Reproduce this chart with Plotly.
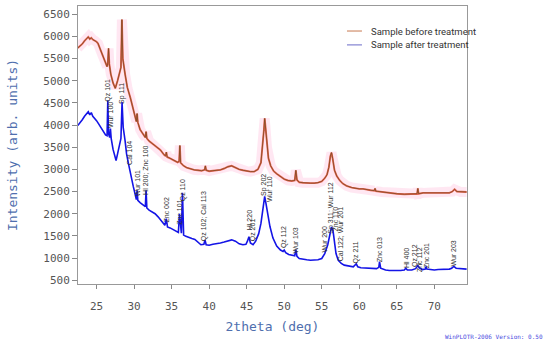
import plotly.graph_objects as go

# ---- data ----
x_before = [22.5, 22.8, 23.1, 23.4, 23.7, 23.9, 24.1, 24.3, 24.5, 24.8, 25.0, 25.2, 25.5, 25.8, 26.1, 26.4,
            26.5, 26.6, 26.7, 26.9, 27.2, 27.5, 27.8, 28.1, 28.25, 28.38, 28.5, 28.8, 29.1, 29.5, 29.8, 30.1,
            30.3, 30.4, 30.5, 30.8, 31.2, 31.5, 31.6, 31.7, 32.0, 32.5, 33.0, 33.5, 34.0, 34.2, 34.3, 34.4,
            34.8, 35.3, 35.8, 36.0, 36.1, 36.2, 36.6, 37.0, 37.5, 38.0, 38.5, 39.0, 39.4, 39.5, 39.6, 40.0,
            40.5, 41.0, 41.5, 42.0, 42.5, 43.0, 43.5, 44.0, 44.5, 45.0, 45.5, 46.0, 46.5, 46.9, 47.1, 47.3,
            47.4, 47.5, 47.7, 47.9, 48.2, 48.6, 49.0, 49.5, 50.0, 50.5, 51.0, 51.4, 51.55, 51.7, 52.0, 52.5,
            53.0, 53.5, 54.0, 54.5, 55.0, 55.4, 55.7, 55.95, 56.15, 56.3, 56.45, 56.7, 57.0, 57.4, 57.8, 58.3,
            59.0, 59.5, 60.0, 60.5, 61.0, 61.5, 62.0, 62.1, 62.2, 63.0, 64.0, 65.0, 66.0, 67.0, 67.7, 67.8,
            67.9, 68.5, 69.0, 70.0, 71.0, 72.0, 72.4, 72.7, 73.0, 73.5, 74.3]
y_before = [5740, 5780, 5830, 5900, 5960, 5990, 5940, 5970, 5930, 5900, 5880, 5840, 5700, 5560, 5420, 5320,
            5400, 5730, 5380, 5150, 4950, 4830, 5000, 5200, 5300, 6380, 5500, 5150, 4850, 4620, 4400, 4200,
            4080, 4260, 4060, 3900, 3780, 3720, 3850, 3700, 3640, 3570, 3500, 3440, 3330, 3300, 3390, 3280,
            3250, 3210, 3160, 3180, 3540, 3150, 3080, 3040, 3010, 2990, 2980, 2970, 2990, 3080, 2980, 2960,
            2970, 2980, 2990, 3020, 3060, 3080, 3040, 3000, 2980, 2960, 2950, 2950, 3000, 3150, 3450, 3900,
            4150, 3950, 3500, 3250, 3080, 2960, 2900, 2830, 2780, 2750, 2740, 2750, 2980, 2760, 2710, 2700,
            2690, 2690, 2690, 2700, 2730, 2800, 2880, 3050, 3300, 3380, 3250, 2980, 2850, 2750, 2680, 2630,
            2590, 2570, 2560, 2560, 2540, 2530, 2520, 2570, 2510, 2490, 2470, 2450, 2440, 2440, 2450, 2570,
            2450, 2470, 2470, 2460, 2460, 2470, 2500, 2550, 2500, 2490, 2490]

x_after = [22.5, 22.8, 23.1, 23.4, 23.7, 23.9, 24.1, 24.3, 24.5, 24.8, 25.0, 25.3, 25.6, 25.9, 26.2, 26.4,
           26.5, 26.6, 26.75, 26.85, 26.95, 27.2, 27.4, 27.6, 27.8, 28.1, 28.25, 28.4, 28.55, 28.8, 29.0, 29.25,
           29.5, 29.9, 30.2, 30.3, 30.4, 30.5, 30.8, 31.2, 31.5, 31.6, 31.7, 32.0, 32.4, 32.8, 33.2, 33.7,
           34.1, 34.3, 34.45, 34.8, 35.2, 35.6, 35.9, 36.05, 36.2, 36.3, 36.45, 36.6, 36.9, 37.3, 37.7, 38.1,
           38.5, 38.9, 39.3, 39.45, 39.6, 40.0, 40.5, 41.0, 41.5, 42.0, 42.5, 43.0, 43.5, 44.0, 44.5, 44.9,
           45.1, 45.3, 45.5, 45.85, 46.2, 46.6, 46.9, 47.1, 47.3, 47.4, 47.55, 47.8, 48.1, 48.5, 49.0, 49.5,
           49.85, 50.0, 50.2, 50.6, 51.0, 51.4, 51.55, 51.7, 52.0, 52.5, 53.0, 53.5, 54.0, 54.5, 55.0, 55.4,
           55.8, 56.1, 56.3, 56.5, 56.7, 56.9, 57.2, 57.6, 58.0, 58.7, 59.2, 59.6, 59.8, 60.2, 60.8, 61.5,
           62.3, 62.6, 62.7, 62.85, 63.5, 64.0, 64.5, 65.0, 65.5, 66.0, 66.2, 66.4, 67.0, 67.5, 67.8, 68.0,
           68.4, 68.8, 68.9, 69.0, 69.5, 70.0, 70.5, 71.0, 71.5, 72.0, 72.3, 72.6, 72.9, 73.3, 73.8, 74.3]
y_after = [3990, 4050, 4120, 4200, 4260, 4300, 4230, 4280, 4200, 4150, 4100, 4020, 3930, 3850, 3780, 3760,
           4560, 3800, 3720, 3920, 3700, 3450, 3300, 3200, 3350, 3580, 3700, 4520, 3950, 3650, 3350, 3130,
           2900, 2610, 2400, 2320, 2530, 2300, 2250, 2200, 2160, 2530, 2130, 2080, 2040, 2000, 1930, 1820,
           1740, 1890, 1700, 1680, 1640, 1600, 1580, 2000, 1600, 1560, 2470, 1520, 1490, 1460, 1440, 1420,
           1350, 1300, 1310, 1410, 1300, 1290, 1310, 1320, 1340, 1360, 1390, 1410, 1380, 1320, 1300, 1310,
           1380, 1480, 1340, 1300, 1380, 1550, 1780, 2050, 2300, 2390, 2250, 1950, 1710, 1450, 1270, 1180,
           1150, 1180, 1120, 1080, 1060, 1050, 1190, 1040, 990, 970, 960, 950, 950, 960, 990, 1100,
           1300, 1600, 1700, 1620, 1300, 1100, 950, 880, 840, 810, 800, 870, 800, 780, 770, 770,
           760, 790, 920, 770, 730, 720, 715, 715, 720, 730, 770, 730, 730, 760, 830, 780,
           740, 750, 810, 750, 740, 730, 740, 740, 740, 750, 770, 810, 770, 760, 760, 750]

peak_labels = ["Qz 101", "Wur 100", "Sp 111", "Cal 104", "Wur 101", "Hl 200; Znc 100", "Znc 002",
               "Znc 101", "Qz 110", "Qz 102; Cal 113", "Hl 220", "Qz 201", "Sp 202", "Wur 110",
               "Qz 112", "Wur 103", "Wur 200", "Sp 311; Wur 112", "Znc 110", "Cal 122; Wur 201",
               "Qz 211", "Znc 013", "Hl 400", "Qz 212", "Znc 112", "Znc 201", "Wur 203"]
label_x = [26.5, 26.95, 28.4, 29.4, 30.4, 31.6, 34.36, 36.05, 36.45, 39.35, 45.3, 45.85, 47.4, 47.95,
           49.95, 51.55, 55.4, 56.2, 56.9, 57.5, 59.6, 62.7, 66.2, 67.4, 67.95, 68.9, 72.6]
label_y = [4794, 4230, 4703, 3362, 2686, 2990, 2090, 2033, 2540, 1950, 1852, 1627, 2641, 2551,
           1469, 1390, 1412, 2130, 1869, 1525, 1131, 1187, 996, 1064, 974, 1041, 1097]

series_names = ["Sample before treatment", "Sample after treatment"]
legend_colors = ["#c87850", "#6a6ac8"]
x_ticks = [25, 30, 35, 40, 45, 50, 55, 60, 65, 70]
y_ticks = [500, 1000, 1500, 2000, 2500, 3000, 3500, 4000, 4500, 5000, 5500, 6000, 6500]

fig = go.Figure()
# pink halo around the "before" curve
fig.add_trace(go.Scatter(x=x_before, y=y_before, mode="lines", showlegend=False, hoverinfo="skip",
                         line=dict(color="rgba(255,170,210,0.28)", width=10)))
fig.add_trace(go.Scatter(x=x_before, y=y_before, mode="lines", showlegend=False, hoverinfo="skip",
                         line=dict(color="rgba(225,60,35,0.75)", width=1.9)))
fig.add_trace(go.Scatter(x=x_before, y=y_before, mode="lines", name=series_names[0], showlegend=False,
                         line=dict(color="#7a4a1e", width=0.8)))
fig.add_trace(go.Scatter(x=x_after, y=y_after, mode="lines", name=series_names[1], showlegend=False,
                         line=dict(color="#1414e6", width=1.6)))

# compact legend drawn as line samples + labels
legend_rows_y = [0.910, 0.860]
for name, col, ly in zip(series_names, legend_colors, legend_rows_y):
    fig.add_shape(type="line", xref="paper", yref="paper", x0=0.6915, x1=0.730, y0=ly, y1=ly,
                  line=dict(color=col, width=1))
    fig.add_annotation(x=0.748, y=ly, xref="paper", yref="paper", xanchor="left", yanchor="middle",
                       text=name, showarrow=False,
                       font=dict(family="Roboto", size=9.5, color="#333333"))

for t, lx, ly in zip(peak_labels, label_x, label_y):
    fig.add_annotation(x=lx, y=ly, xref="x", yref="y", text=t, showarrow=False, textangle=-90,
                       font=dict(family="Liberation Sans, Arial", size=7, color="#333333"))

fig.add_annotation(x=1.2005, y=-0.1906, xref="paper", yref="paper", xanchor="right", yanchor="middle",
                   text="WinPLOTR-2006 Version: 0.50", showarrow=False,
                   font=dict(family="DejaVu Sans Mono", size=6, color="#4a4ae0"))

axis_common = dict(showline=True, linecolor="#999999", linewidth=1, mirror=True, showgrid=False,
                   zeroline=False, ticks="outside", tickcolor="#888888", automargin=False,
                   tickfont=dict(family="DejaVu Sans Mono", size=11, color="#555555"))
fig.update_xaxes(range=[22.53, 74.35], tickvals=x_ticks, ticklen=4, ticklabelstandoff=8,
                 title=dict(text="2theta (deg)", standoff=9,
                            font=dict(family="DejaVu Sans Mono", size=13, color="#4f6fae")),
                 **axis_common)
fig.update_yaxes(range=[414, 6687], tickvals=y_ticks, ticklen=5,
                 title=dict(text="Intensity (arb. units)", standoff=22,
                            font=dict(family="DejaVu Sans Mono", size=13, color="#4f6fae")),
                 **axis_common)

fig.update_layout(
    width=550, height=345,
    margin=dict(l=78, r=83, t=6, b=61),
    paper_bgcolor="white", plot_bgcolor="white",
    showlegend=False,
)

fig.write_html("out.html", config={"displayModeBar": False},
               post_script="document.body.style.margin='0';")
